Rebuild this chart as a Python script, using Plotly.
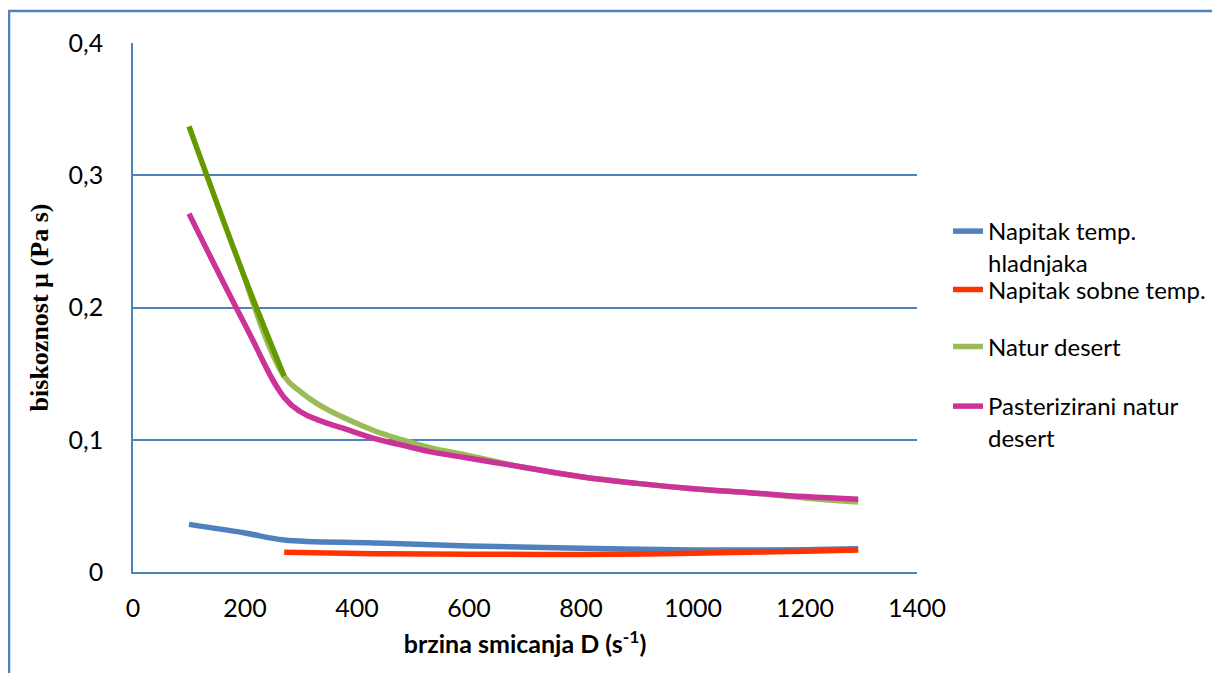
import plotly.graph_objects as go

# Shear rate (s^-1)
x_cold = [100, 200, 270, 430, 600, 800, 1000, 1200, 1295]
x_room = [270, 430, 600, 800, 1000, 1200, 1295]
x_des = [100, 200, 270, 300, 330, 380, 430, 480, 530, 600, 700, 800, 900, 1000, 1100, 1200, 1295]

# Viscosity (Pa s)
y_cold = [0.036, 0.0295, 0.0242, 0.022, 0.0197, 0.018, 0.0167, 0.0168, 0.0175]
y_room = [0.0149, 0.0138, 0.0135, 0.0132, 0.0142, 0.0157, 0.0166]
y_natur = [0.337, 0.222, 0.148, 0.136, 0.127, 0.116, 0.107, 0.100, 0.094, 0.088, 0.079, 0.072,
           0.067, 0.063, 0.060, 0.056, 0.053]
y_past = [0.271, 0.187, 0.132, 0.121, 0.115, 0.108, 0.101, 0.096, 0.091, 0.086, 0.079, 0.072,
          0.067, 0.063, 0.060, 0.057, 0.055]

names = ["Napitak temp.<br>hladnjaka", "Napitak sobne temp.", "Natur desert",
         "Pasterizirani natur<br>desert"]
x_ticks = [0, 200, 400, 600, 800, 1000, 1200, 1400]
y_ticks = [0, 0.1, 0.2, 0.3, 0.4]

C_BLUE = "#4F81BD"
C_RED = "#FF3300"
C_GREEN = "#9BBB59"
C_DKGREEN = "#669900"
C_PINK = "#CC3399"
LW = 5.5

fig = go.Figure()
fig.add_trace(go.Scatter(x=x_cold, y=y_cold, mode="lines", name=names[0],
                         line=dict(color=C_BLUE, width=LW, shape="spline"), legend="legend"))
fig.add_trace(go.Scatter(x=x_room, y=y_room, mode="lines", name=names[1],
                         line=dict(color=C_RED, width=LW, shape="spline"), legend="legend2"))
fig.add_trace(go.Scatter(x=x_des[1:], y=y_natur[1:], mode="lines", name=names[2],
                         line=dict(color=C_GREEN, width=LW, shape="spline", smoothing=1.2),
                         legend="legend3"))
fig.add_trace(go.Scatter(x=x_des[:3], y=y_natur[:3], mode="lines", name=names[2],
                         line=dict(color=C_DKGREEN, width=LW, shape="spline"), showlegend=False))
fig.add_trace(go.Scatter(x=x_des, y=y_past, mode="lines", name=names[3],
                         line=dict(color=C_PINK, width=LW, shape="spline", smoothing=1.2),
                         legend="legend4"))

# page body has an 8px margin: work in screen pixels and convert
OFF = 8
W, H = 1212, 665
L = 133 - OFF
T = 43 - OFF
R = W - (917 - OFF)
B = H - (572 - OFF)
pw, ph = W - L - R, H - T - B

def px_x(p):
    return (p - OFF - L) / pw

def px_y(p):
    return (H - B - (p - OFF)) / ph

FS = 25
leg_font = dict(family="Lato", size=24, color="#000000")
leg_common = dict(font=leg_font, bgcolor="rgba(0,0,0,0)", xanchor="left", yanchor="middle",
                  valign="top", x=px_x(948))

fig.update_layout(
    width=W, height=H,
    margin=dict(l=L, r=R, t=T, b=B, autoexpand=False),
    plot_bgcolor="white", paper_bgcolor="white",
    separators=", ",
    font=dict(family="Lato", size=FS, color="#000000"),
    legend=dict(**leg_common, y=px_y(247)),
    legend2=dict(**leg_common, y=px_y(290)),
    legend3=dict(**leg_common, y=px_y(347)),
    legend4=dict(**leg_common, y=px_y(422)),
    xaxis=dict(range=[0, 1400], tickvals=x_ticks, showgrid=False, zeroline=False,
               showline=True, linecolor=C_BLUE, linewidth=1.5, ticks="",
               ticklabelstandoff=13, automargin=False,
               tickfont=dict(family="Lato", size=FS, color="#000000"),
               title=dict(text="<b>brzina smicanja D (s<sup>-1</sup>)</b>",
                          font=dict(family="Lato", size=FS, color="#000000"), standoff=15)),
    yaxis=dict(range=[0, 0.4], tickvals=y_ticks, showgrid=True, gridcolor=C_BLUE, gridwidth=1.5,
               zeroline=False, showline=True, linecolor=C_BLUE, linewidth=1.5, ticks="",
               ticklabelstandoff=23, automargin=False,
               tickfont=dict(family="Lato", size=FS, color="#000000"),
               title=dict(text="<b>biskoznost µ (Pa s)</b>",
                          font=dict(family="Liberation Serif", size=26, color="#000000"), standoff=12)),
    shapes=[dict(type="rect", xref="paper", yref="paper", x0=px_x(9), x1=1.6, y0=-0.5, y1=px_y(11),
                 line=dict(color=C_BLUE, width=2.5), layer="below")],
)

fig.write_html("out.html")
